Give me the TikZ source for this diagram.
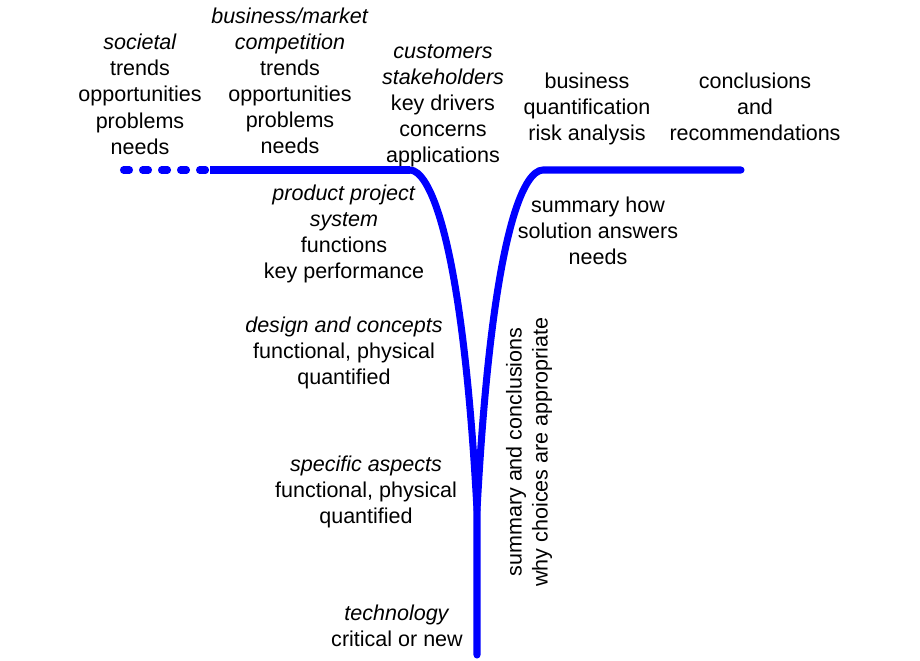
\documentclass[tikz,border=0pt]{standalone}
\usepackage{fontspec}
\setmainfont{Liberation Sans}
\begin{document}
\begin{tikzpicture}[x=0.025cm, y=-0.025cm,
    every node/.style={align=center, inner sep=0pt,
      font=\fontsize{15.3}{18.5}\selectfont},
    vline/.style={draw=blue, line width=5pt, line cap=round}]
  \useasboundingbox (0,0) rectangle (920,660);
  \path
    (140,94.3) node (soc){\textit{societal}\\trends\\opportunities\\problems\\needs}
    (290,80.5) node (biz){\textit{business/market}\\\textit{competition}\\trends\\opportunities\\problems\\needs}
    (443,106) node (cust){\textit{customers}\\\textit{stakeholders}\\key drivers\\concerns\\applications}
    (587,108.5) node (quant){business\\quantification\\risk analysis}
    (755,106.5) node (concl){conclusions\\and\\recommendations}
    (598,231) node (answ){summary how\\solution answers\\needs}
    (344,234) node (prod){\textit{product project}\\\textit{system}\\functions\\key performance}
    (344,352.5) node (dsgn){\textit{design and concepts}\\functional, physical\\quantified}
    (366,491.5) node (spec){\textit{specific aspects}\\functional, physical\\quantified}
    (397,626) node (tech){\textit{technology}\\critical or new}
    (529,452) node[rotate=90] (why){summary and conclusions\\why choices are appropriate};
  \coordinate (a) at (123.5,170);
  \coordinate (b) at (206,170);
  \coordinate (b') at (210,170);
  \coordinate (c) at (410,170);
  \coordinate (v) at (477,510);
  \coordinate (d) at (477,655);
  \coordinate (e) at (543,170);
  \coordinate (f) at (741,170);
  \begin{scope}[vline]
    \draw[dash pattern=on 4.27pt off 9.25pt] (a) -- (b);
    \draw[line cap=butt] (b') -- (c);
    \draw (c) .. controls (428,170) and (462,230) .. (v) -- (d);
    \draw (v) .. controls (492,230) and (524,170) .. (e) -- (f);
  \end{scope}
\end{tikzpicture}
\end{document}
